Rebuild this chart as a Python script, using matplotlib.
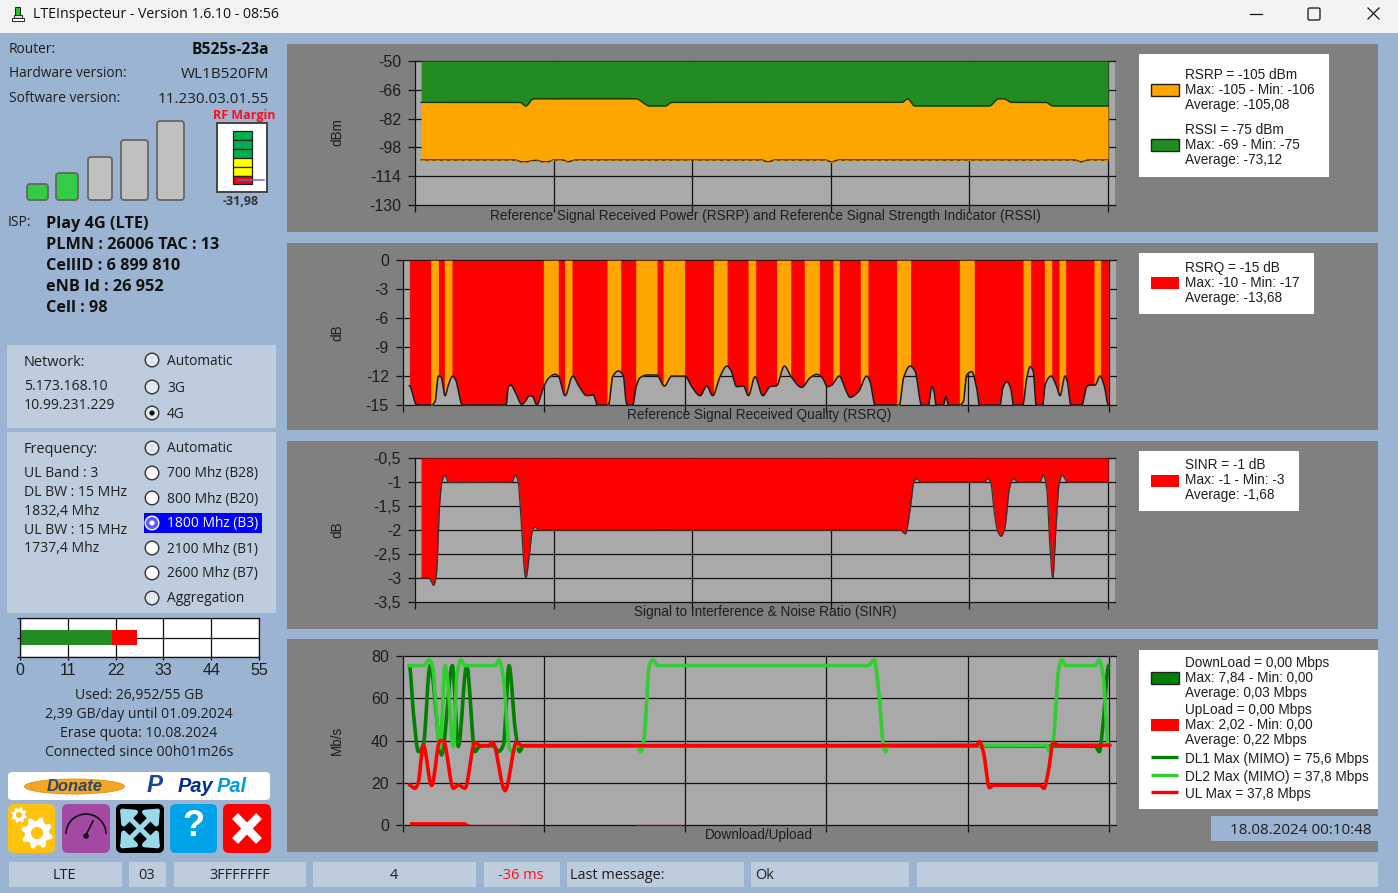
import numpy as np
import matplotlib
matplotlib.use("Agg")
import matplotlib.pyplot as plt
from matplotlib.patches import Rectangle, FancyBboxPatch, Circle, Ellipse, Polygon, Arc

plt.rcParams['axes.unicode_minus'] = False

# ---------- data ----------
rssi_x = [4.4, 75.9, 79.9, 85.4, 159.2, 169.4, 180.6, 185.4, 351.4, 355.4, 360.5, 414.3, 421.1, 424.5, 430.6, 455.1, 460.2, 500]
rssi_y = [-73, -73, -75, -71, -71, -75, -75, -73, -73, -71, -75, -75, -71, -71, -73, -73, -75, -75]
rsrp_x = [4.4, 72, 77, 81, 84, 88, 92, 96, 100, 107, 110, 116, 250, 254.4, 260, 296, 300.3, 306, 476, 480.6, 486, 500]
rsrp_y = [-105, -105, -106, -106, -105.4, -105.2, -106, -106, -105, -105, -106, -105, -105, -106, -105, -105, -106, -105, -105, -106, -105, -105]

rsrq_x = [4.7, 9.9, 20.5, 22.9, 25.3, 27.1, 30, 32.3, 35.4, 37.5, 42.3, 73.2, 74.8, 76.5, 79.6, 84.3, 86.6, 89.7, 92.1, 94.9,
          99.6, 103.2, 107.9, 110.2, 115, 120.4, 124.4, 130.3, 135, 137.9, 145.7, 148.7, 152.7, 156.3, 158.2, 159.1, 162.9,
          165.3, 168.1, 172.8, 179.9, 185.3, 190.5, 199.9, 204.7, 210.6, 215.3, 219.5, 224.7, 229.5, 232.3, 236.5, 241.3,
          244.8, 249.5, 255, 260.1, 264.8, 270.3, 274.8, 282.5, 288.5, 293.2, 297.4, 300.7, 303.8, 309.2, 313.2, 316.8,
          322.7, 328.6, 331, 334.5, 351.7, 354.6, 359.3, 362.8, 367.5, 372.3, 374.6, 376.3, 377.7, 382.9, 384.8, 386.4,
          394.7, 397, 399.4, 403, 406.5, 408.4, 423, 424.9, 427.7, 430.6, 432.5, 439.1, 441.9, 444.3, 446.6, 448.5, 453.2,
          454.9, 459.1, 462.7, 465.5, 469, 470.7, 473.1, 480.9, 484.4, 486.8, 490.3, 493.8, 496.7, 499.7]
rsrq_y = [-13, -15, -15, -14.65, -12, -12.06, -14.03, -12.93, -12, -12.41, -15, -15, -13.1, -12.93, -13.62, -14.93, -14.65, -14.03, -14.13, -15,
          -13.2, -12.23, -11.82, -12, -14.03, -12, -12.93, -14.03, -13.96, -15, -15, -12.06, -11.47, -12, -14.65, -15, -15,
          -13.1, -12.17, -11.89, -11.89, -13.03, -12, -12, -13.1, -14.03, -13.03, -14.03, -12.06, -10.96, -11.37, -13.1, -13.03,
          -14.03, -12.06, -14.03, -13.1, -12.99, -10.96, -12, -13.17, -12.17, -11.82, -12.23, -13.1, -12.93, -12, -13.27, -14.2,
          -13.62, -12, -12.58, -15, -15, -12.23, -10.96, -11.47, -15, -15, -13.1, -13.62, -15, -15, -14.07, -15,
          -15, -14.65, -11.89, -11.54, -13.27, -15, -15, -13.27, -12.58, -13.27, -15, -15, -12.23, -11.02, -11.54, -15, -15,
          -12.93, -12, -12.93, -14.03, -12, -12.58, -15, -15, -13.1, -12.93, -12.93, -12, -12.93, -15]
rsrq_orange_start = [19.8, 29.5, 99.6, 114.7, 144.7, 165, 184.4, 220, 244.6, 264.8, 284.4, 304.7, 324.1, 349.8, 394.2, 439.3, 454.4, 464.8, 489.6]
rsrq_orange_end = [25.3, 34.9, 110.2, 119.9, 154.4, 180.1, 199.7, 229.7, 250, 274.8, 295.1, 309.2, 329.5, 359.7, 404.8, 444.7, 459.6, 469.5, 494.3]

sinr_x = [4.4, 10.1, 13.4, 15.4, 17.8, 19.5, 21.5, 24.2, 69.8, 72.5, 74.5, 75.8, 79.9, 82.6, 84.6, 86.6, 89.3, 350, 353.7, 357.7,
          359.7, 361.7, 365.1, 410.4, 413.4, 415.4, 418.1, 420.5, 422.8, 425.5, 428.9, 431.5, 434.9, 450.7, 453.4, 455.7,
          458, 460.1, 462.4, 464.8, 466.8, 470.8, 500]
sinr_y = [-3, -3, -3.15, -2.93, -1.47, -0.99, -0.86, -1.01, -1, -0.86, -1, -1.47, -3, -2.5, -2.03, -1.94, -2, -2, -2.08, -1.47,
          -1.02, -0.93, -1, -1, -0.93, -1.02, -1.68, -2.04, -2.13, -1.96, -1.13, -0.93, -1, -1, -0.86, -1.13,
          -2.31, -3, -1.96, -1.02, -0.86, -1, -1]

dl2_x = [4.7, 14.6, 18.9, 21, 26.4, 30, 31.6, 35.9, 38.2, 41.1, 44.1, 65.4, 68.2, 71.3, 75.5, 77.9, 80.7, 165.7, 168.6, 170.9,
         174.7, 177, 181.1, 329.8, 333.8, 336.9, 340.4, 341.8, 344, 456.1, 457.7, 460.8, 464.3, 466.7, 469.8, 490.3, 493.4, 496.2, 499.7]
dl2_y = [75.6, 75.6, 78.3, 75.6, 36.5, 75.6, 69.6, 37.2, 69.6, 78.3, 75.6, 75.6, 78.3, 69.6, 36.4, 34.5, 37.6, 37.8, 34.8, 41,
         75.6, 78.3, 75.6, 75.6, 78.3, 64.8, 37.9, 34.8, 37.8, 37.8, 35, 40.3, 72.7, 78.3, 75.6, 75.6, 78.3, 69.6, 37.6]
dl1_x = [4.7, 7.5, 11.1, 14.6, 19.4, 27.6, 35.2, 39.4, 45.3, 51.2, 54.3, 57.1, 64.2, 67.8, 71.3, 75.3, 79.6, 82.6, 85.5, 490.3, 493.4, 495.7, 500]
dl1_y = [75.6, 53.8, 34.8, 37.9, 75.6, 33.2, 75.6, 37.2, 75.6, 34.8, 37.2, 37.6, 37.6, 34.8, 37.9, 75.6, 45.8, 34.8, 37.6, 37.4, 34.8, 45.8, 75.6]
ul_x = [4.7, 8.7, 11, 14.6, 20.5, 26.4, 28.8, 35.9, 39.4, 44.1, 51.2, 54.8, 60.7, 63.7, 72.5, 80.7, 84.3, 406.5, 408.4, 411.2,
        415.5, 418.3, 451.3, 454.2, 457.2, 460.8, 464.3, 500.9]
ul_y = [19, 17.4, 20, 37.9, 18.7, 40, 40, 17.4, 19, 17.4, 39.2, 37.6, 37.6, 39.2, 16.3, 39.2, 37.6, 37.8, 39.6, 34.8,
        17.7, 18.9, 18.9, 17.4, 25.3, 39.2, 37.8, 37.8]
upload_x = [4.7, 43, 48, 82, 83, 164, 165, 197, 198]
upload_y = [1.6, 1.6, 0.3, 0.3, 0, 0, 0.3, 0.3, 0]

rsrp_ticks = [-50, -66, -82, -98, -114, -130]
rsrq_ticks = [0, -3, -6, -9, -12, -15]
sinr_ticks = [-0.5, -1, -1.5, -2, -2.5, -3, -3.5]
sinr_labels = ['-0,5', '-1', '-1,5', '-2', '-2,5', '-3', '-3,5']
rate_ticks = [0, 20, 40, 60, 80]
sample_ticks = [0, 100, 200, 300, 400, 500]

quota_green = 21.2
quota_red = 5.75
quota_ticks = [0, 11, 22, 33, 44, 55]

legend_rsrp = ['RSRP = -105 dBm', 'Max: -105 - Min: -106', 'Average: -105,08',
               'RSSI = -75 dBm', 'Max: -69 - Min: -75', 'Average: -73,12']
legend_rsrq = ['RSRQ = -15 dB', 'Max: -10 - Min: -17', 'Average: -13,68']
legend_sinr = ['SINR = -1 dB', 'Max: -1 - Min: -3', 'Average: -1,68']
legend_rate = ['DownLoad = 0,00 Mbps', 'Max: 7,84 - Min: 0,00', 'Average: 0,03 Mbps',
               'UpLoad = 0,00 Mbps', 'Max: 2,02 - Min: 0,00', 'Average: 0,22 Mbps',
               'DL1 Max (MIMO) = 75,6 Mbps', 'DL2 Max (MIMO) = 37,8 Mbps', 'UL Max = 37,8 Mbps']
freq_labels = ['Automatic', '700 Mhz (B28)', '800 Mhz (B20)', '1800 Mhz (B3)', '2100 Mhz (B1)', '2600 Mhz (B7)', 'Aggregation']
net_labels = ['Automatic', '3G', '4G']

# ---------- helpers ----------
W, H = 1398, 893
UI = 'Open Sans'
CH = 'Liberation Sans'
BG = '#9AB4D2'
BOX = '#BDCDDD'
PANEL = '#808080'
PLOT = '#A9A9A9'
TXT = '#1e1e1e'


def pchip(x, y, n=12):
    """Monotone cubic curve through the read points, for drawing only."""
    x = np.asarray(x, float)
    y = np.asarray(y, float)
    h = np.diff(x)
    d = np.diff(y) / h
    m = np.zeros_like(y)
    for i in range(1, len(x) - 1):
        if d[i - 1] * d[i] > 0:
            w1 = 2 * h[i] + h[i - 1]
            w2 = h[i] + 2 * h[i - 1]
            m[i] = (w1 + w2) / (w1 / d[i - 1] + w2 / d[i])
    xs, ys = [], []
    for i in range(len(h)):
        t = np.linspace(0, 1, n, endpoint=False)
        xs.append(x[i] + t * h[i])
        ys.append((2*t**3 - 3*t**2 + 1) * y[i] + (t**3 - 2*t**2 + t) * h[i] * m[i]
                  + (-2*t**3 + 3*t**2) * y[i + 1] + (t**3 - t**2) * h[i] * m[i + 1])
    xs.append(x[-1:])
    ys.append(y[-1:])
    return np.concatenate(xs), np.concatenate(ys)


fig = plt.figure(figsize=(W / 100, H / 100), dpi=100, facecolor=BG)
bg = fig.add_axes([0, 0, 1, 1], zorder=0)
bg.set_xlim(0, W)
bg.set_ylim(H, 0)
bg.axis('off')


def px(size):
    return size * 0.72


def rect(x0, y0, x1, y1, fc, ec='none', lw=0, z=1):
    bg.add_patch(Rectangle((x0, y0), x1 - x0, y1 - y0, fc=fc, ec=ec, lw=lw, zorder=z))


def rrect(x0, y0, x1, y1, fc, ec='none', lw=0, r=3, z=2):
    bg.add_patch(FancyBboxPatch((x0 + r, y0 + r), x1 - x0 - 2 * r, y1 - y0 - 2 * r,
                                boxstyle=f'round,pad={r},rounding_size={r}', fc=fc, ec=ec, lw=lw, zorder=z))


def text(x, y, s, size=14.5, ha='left', color=TXT, weight='normal', family=UI, **kw):
    dy = 1.5 if family == UI else 1.0
    bg.text(x, y + dy, s, fontsize=px(size), ha=ha, va='center', color=color, fontweight=weight, family=family, zorder=6, **kw)


def chart_axes(x0, x1, ytop, ybot):
    return fig.add_axes([x0 / W, 1 - ybot / H, (x1 - x0) / W, (ybot - ytop) / H], zorder=2, facecolor=PLOT)


def style(ax, yticks, ylim, labels=None):
    ax.set_xlim(0, 505)
    ax.set_ylim(*ylim)
    ax.set_xticks(sample_ticks)
    ax.set_xticklabels([])
    ax.set_yticks(yticks)
    ax.set_yticklabels(labels if labels else [str(v) for v in yticks], family=CH, fontsize=px(16), color=TXT)
    ax.tick_params(axis='both', length=5, width=0.9, color='#111111', pad=5)
    ax.set_axisbelow(True)
    ax.grid(True, color='#111111', lw=0.9)
    for g in ax.get_xgridlines() + ax.get_ygridlines():
        g.set_clip_on(False)
    for s in ax.spines.values():
        s.set_visible(False)


# ---------- window frame ----------
rect(0, 0, W, 33, '#F3F3F3')
text(33, 12.5, 'LTEInspecteur - Version 1.6.10 - 08:56', size=14.1, color='#111111')
rect(14, 15, 22, 18, '#dddddd', ec='#222222', lw=0.7, z=3)
rect(12, 18, 24, 21, '#ffffff', ec='#222222', lw=0.7, z=3)
rect(15, 7, 20, 15, '#19c819', ec='#222222', lw=0.7, z=3)
bg.plot([1250, 1262], [13.5, 13.5], color='#111111', lw=0.9)
bg.add_patch(FancyBboxPatch((1309, 9), 10, 10, boxstyle='round,pad=1,rounding_size=1.5', fc='none', ec='#111111', lw=0.9))
bg.plot([1368, 1379], [8, 19], color='#111111', lw=0.9)
bg.plot([1368, 1379], [19, 8], color='#111111', lw=0.9)

# ---------- chart panels ----------
for y0, y1 in [(44, 232), (243, 430), (441, 629), (639, 852)]:
    rect(287, y0, 1378, y1, PANEL)

# RSRP / RSSI
ax1 = chart_axes(415, 1115, 61, 205)
style(ax1, rsrp_ticks, (-130, -50))
xa, ya = pchip(rssi_x, rssi_y)
xb, yb = pchip(rsrp_x, rsrp_y)
grid1 = np.union1d(xa, xb)
ax1.fill_between(grid1, -50, np.interp(grid1, xa, ya), color='#228B22', lw=0, zorder=2)
ax1.fill_between(grid1, np.interp(grid1, xa, ya), np.interp(grid1, xb, yb), color='#FFA500', lw=0, zorder=2)
ax1.plot(xa, ya, color='#0d3a0d', lw=1, zorder=3)
ax1.plot(xb, yb, color='#2a2000', lw=1, zorder=3)
ax1.plot(xb, yb - 0.35, color='#c98a10', lw=0.8, ls=(0, (4, 2.5)), zorder=3)

# RSRQ
ax2 = chart_axes(402.7, 1115.8, 260.3, 405)
style(ax2, rsrq_ticks, (-15, 0))
xq, yq = pchip(rsrq_x, rsrq_y)
ax2.fill_between(xq, 0, yq, color='#FF0000', lw=0, zorder=2)
for a, b in zip(rsrq_orange_start, rsrq_orange_end):
    sel = (xq >= a) & (xq <= b)
    xs = np.concatenate(([a], xq[sel], [b]))
    ax2.fill_between(xs, 0, np.interp(xs, xq, yq), color='#FFA500', lw=0, zorder=2.2)
ax2.plot(xq, yq, color='#1a1a1a', lw=1.1, zorder=3)

# SINR
ax3 = chart_axes(415, 1115, 458, 602)
style(ax3, sinr_ticks, (-3.5, -0.5), sinr_labels)
xs3, ys3 = pchip(sinr_x, sinr_y)
ax3.fill_between(xs3, -0.5, ys3, color='#FF0000', lw=0, zorder=2)
ax3.plot(xs3, ys3, color='#333333', lw=0.9, zorder=3)

# Download / upload
ax4 = chart_axes(402.7, 1115.8, 656.3, 825)
style(ax4, rate_ticks, (0, 80))
xu, yu = pchip(upload_x, upload_y)
ax4.fill_between(xu, 0, yu, color='#FF0000', lw=0, zorder=2)
for (lx, ly, col) in [(dl1_x, dl1_y, '#008000'), (dl2_x, dl2_y, '#32CD32'), (ul_x, ul_y, '#FF0000')]:
    cx, cy = pchip(lx, ly)
    ax4.plot(cx, cy, color=col, lw=2.6, zorder=3, solid_capstyle='round')

# axis names and captions
for y, s in [(131, 'dBm'), (332, 'dB'), (529, 'dB'), (739, 'Mb/s')]:
    text(337, y, s, size=13.5, ha='center', family=CH, rotation=90)
text(765, 215, 'Reference Signal Received Power (RSRP) and Reference Signal Strength Indicator (RSSI)', size=13.65, ha='center', family=CH)
text(759.5, 414, 'Reference Signal Received Quality (RSRQ)', size=13.65, ha='center', family=CH)
text(765, 611, 'Signal to Interference & Noise Ratio (SINR)', size=13.65, ha='center', family=CH)
text(759, 834, 'Download/Upload', size=13.65, ha='center', family=CH)


# legends
def legend_box(x0, y0, x1, y1, rows, ys):
    rect(x0, y0, x1, y1, 'white', z=3)
    for s, y in zip(rows, ys):
        text(1185, y, s, size=13.65, family=CH)


def swatch(y, col, ec='#222222'):
    rect(1151, y - 6, 1179, y + 6, col, ec=ec, lw=1, z=4)


legend_box(1139, 54, 1329, 177, legend_rsrp, [74, 89, 104, 129, 144, 159])
swatch(90, '#FFA500')
swatch(145, '#228B22')
legend_box(1139, 253, 1314, 314, legend_rsrq, [267, 282, 297])
swatch(283, '#FF0000', ec='none')
legend_box(1139, 451, 1299, 511, legend_sinr, [464, 479, 494])
swatch(481, '#FF0000', ec='none')
legend_box(1139, 650, 1378, 809, legend_rate, [662, 677, 692, 709, 724, 739, 758, 776, 793])
swatch(678, '#008000')
swatch(725, '#FF0000', ec='none')
for y, c in [(757, '#008000'), (775, '#32CD32'), (792, '#FF0000')]:
    bg.plot([1151, 1178], [y, y], color=c, lw=2.4, zorder=5, solid_capstyle='butt')
rect(1211, 816, 1378, 841, BG, z=3)
text(1372, 829.5, '18.08.2024 00:10:48', size=15.2, ha='right')

# ---------- left column ----------
text(9, 48, 'Router:', size=13.8)
text(269, 49, 'B525s-23a', size=15.6, ha='right', weight='bold', color='#111111')
text(9, 72, 'Hardware version:', size=13.8)
text(269, 72.5, 'WL1B520FM', size=15.2, ha='right')
text(9, 97, 'Software version:', size=13.8)
text(269, 98, '11.230.03.01.55', size=15.2, ha='right')

for (x0, y0, x1, fc) in [(27, 184, 48, '#33CC44'), (56, 173, 78, '#33CC44'), (88, 157, 112, '#C0C0C0'),
                         (121, 140, 148, '#C0C0C0'), (157, 121, 184, '#C0C0C0')]:
    rrect(x0, y0, x1, 200, fc, ec='#666666', lw=1.3)

text(244, 114, 'RF Margin', size=12.5, ha='center', color='#FF1020', weight='bold')
rect(217, 123, 267, 192, 'white', ec='#444444', lw=1.4, z=2)
for i, c in enumerate(['#00B050', '#00B050', '#00B050', '#FFFF00', '#FFFF00', '#FF0000']):
    rect(232.5, 131 + i * 8.9, 251.5, 131 + (i + 1) * 8.9, c, ec='#222222', lw=0.9, z=3)
bg.plot([238, 264], [179.5, 179.5], color='#6666CC', lw=1.1, zorder=4)
text(241, 200, '-31,98', size=12.5, ha='center', weight='bold', color='#333333')

text(8, 221, 'ISP:', size=13.8)
for y, s in zip([222.5, 243.5, 264.5, 285.5, 306.5],
                ['Play 4G (LTE)', 'PLMN : 26006 TAC : 13', 'CellID : 6 899 810', 'eNB Id : 26 952', 'Cell : 98']):
    text(46, y, s, size=16.3, weight='bold', color='#111111')

rect(7, 345, 276, 428, BOX)
rect(7, 432, 276, 613, BOX)
text(24, 360.5, 'Network:', size=14.5)
text(24, 385, '5.173.168.10', size=14)
text(24, 404, '10.99.231.229', size=14)


def radio(y, fc, selected=False, dot='#111111', ec='#333333'):
    bg.add_patch(Circle((152, y), 6.8, fc=fc, ec=ec, lw=1, zorder=4))
    if selected:
        bg.add_patch(Circle((152, y), 2.6, fc=dot, ec='none', zorder=5))


for y, s, sel in zip([360, 387, 413], net_labels, [False, False, True]):
    radio(y, '#E4E9EF', sel)
    text(167, y, s, size=13.8)

text(24, 448, 'Frequency:', size=14.5)
for y, s in zip([472, 491, 510, 529, 547], ['UL Band : 3', 'DL BW : 15 MHz', '1832,4 Mhz', 'UL BW : 15 MHz', '1737,4 Mhz']):
    text(24, y, s, size=14)
rect(144, 513, 262, 533, '#0000FF', z=2)
for i, (y, s) in enumerate(zip([448, 473, 498, 523, 548, 573, 598], freq_labels)):
    if i == 3:
        radio(y, '#5A5AFF', True, dot='white', ec='white')
        text(167, y - 0.5, s, size=13.8, color='white')
    else:
        radio(y, '#E4E9EF' if i in (0, 6) else 'white')
        text(167, y - 0.5, s, size=13.8)

# quota bar
axq = fig.add_axes([20 / W, 1 - 657 / H, 239 / W, 39 / H], zorder=2, facecolor='white')
axq.barh([0], [quota_green], left=0, height=0.82, color='#228B22', zorder=2)
axq.barh([0], [quota_red], left=quota_green, height=0.82, color='#FF0000', zorder=2)
axq.set_xlim(0, 55)
axq.set_ylim(-1, 1)
axq.set_xticks(quota_ticks)
axq.set_xticklabels([str(v) for v in quota_ticks], family=CH, fontsize=px(16), color=TXT)
axq.set_yticks([-1, 0, 1])
axq.set_yticklabels([])
axq.tick_params(axis='both', length=2.5, width=0.9, color='#111111', pad=2)
axq.set_axisbelow(True)
axq.grid(True, color='#111111', lw=0.9)
for s in axq.spines.values():
    s.set_color('#111111')
    s.set_linewidth(0.9)

for y, s in zip([694, 713, 732, 751], ['Used: 26,952/55 GB', '2,39 GB/day until 01.09.2024', 'Erase quota: 10.08.2024', 'Connected since 00h01m26s']):
    text(139, y, s, size=14, ha='center')

# donate strip
rrect(8, 772, 270, 800, 'white', r=4)
bg.add_patch(Ellipse((74.5, 786.5), 100, 15, fc='#F5A623', ec='#E09010', lw=0.6, zorder=3))
text(75, 785.5, 'Donate', size=16.5, ha='center', weight='bold', color='#2B4A6B', style='italic', family='Liberation Sans')
text(155, 785, 'P', size=24, ha='center', weight='bold', color='#1546A0', style='italic', family='Liberation Sans')
text(178, 786, 'Pay', size=20, weight='bold', color='#003087', style='italic', family='Liberation Sans')
text(217, 786, 'Pal', size=20, weight='bold', color='#009CDE', style='italic', family='Liberation Sans')


# buttons
def gear(cx, cy, r, n=8):
    a = np.linspace(0, 2 * np.pi, n * 4, endpoint=False) + np.pi / (n * 2)
    rad = np.tile([r, r, r * 0.76, r * 0.76], n)
    bg.add_patch(Polygon(np.c_[cx + rad * np.cos(a), cy + rad * np.sin(a)], fc='white', ec='none', zorder=4))
    bg.add_patch(Circle((cx, cy), r * 0.38, fc='#FFC20E', ec='none', zorder=5))


rrect(8, 804, 55, 853, '#FFC20E', r=6)
gear(37, 833, 16)
gear(19, 815, 8)
rrect(62, 804, 110, 853, '#A349A4', r=6)
bg.add_patch(Arc((86, 834), 40, 40, theta1=180, theta2=360, ec='#111111', lw=1.2, zorder=4))
bg.plot([86, 93], [835, 821], color='#111111', lw=1.2, zorder=4)
bg.add_patch(Circle((86, 836), 2.8, fc='#111111', zorder=4))
rrect(116, 804, 164, 853, '#000000', r=6)
for (dx, dy) in [(-1, -1), (1, -1), (-1, 1), (1, 1)]:
    cx, cy = 140, 828.5
    bg.annotate('', xy=(cx + dx * 20, cy + dy * 20), xytext=(cx, cy),
                arrowprops=dict(arrowstyle='-|>,head_width=0.6,head_length=0.7', color='#99D9EA', lw=3.6, shrinkA=0, shrinkB=0), zorder=4)
rrect(170, 804, 217, 853, '#00A2E8', r=6)
text(193.5, 826, '?', size=36, ha='center', color='white', weight='bold', family='Liberation Sans')
rrect(223, 804, 271, 853, '#FF0000', r=6)
bg.plot([235, 259], [816, 841], color='white', lw=6, zorder=4, solid_capstyle='butt')
bg.plot([235, 259], [841, 816], color='white', lw=6, zorder=4, solid_capstyle='butt')

# ---------- status bar ----------
for x0, x1 in [(9, 122), (129, 166), (174, 306), (313, 476), (484, 560), (567, 744), (751, 909), (917, 1378)]:
    rect(x0, 862, x1, 887, BOX)
text(64, 874, 'LTE', size=14.5, ha='center')
text(147, 874, '03', size=14.5, ha='center')
text(240, 874, '3FFFFFFF', size=14.5, ha='center')
text(394, 874, '4', size=14.5, ha='center')
text(521, 874, '-36 ms', size=14.5, ha='center', color='#FF1020')
text(570, 874, 'Last message:', size=14.5)
text(755, 874, 'Ok', size=14.5)

fig.savefig('out.png', dpi=100, facecolor=BG)
